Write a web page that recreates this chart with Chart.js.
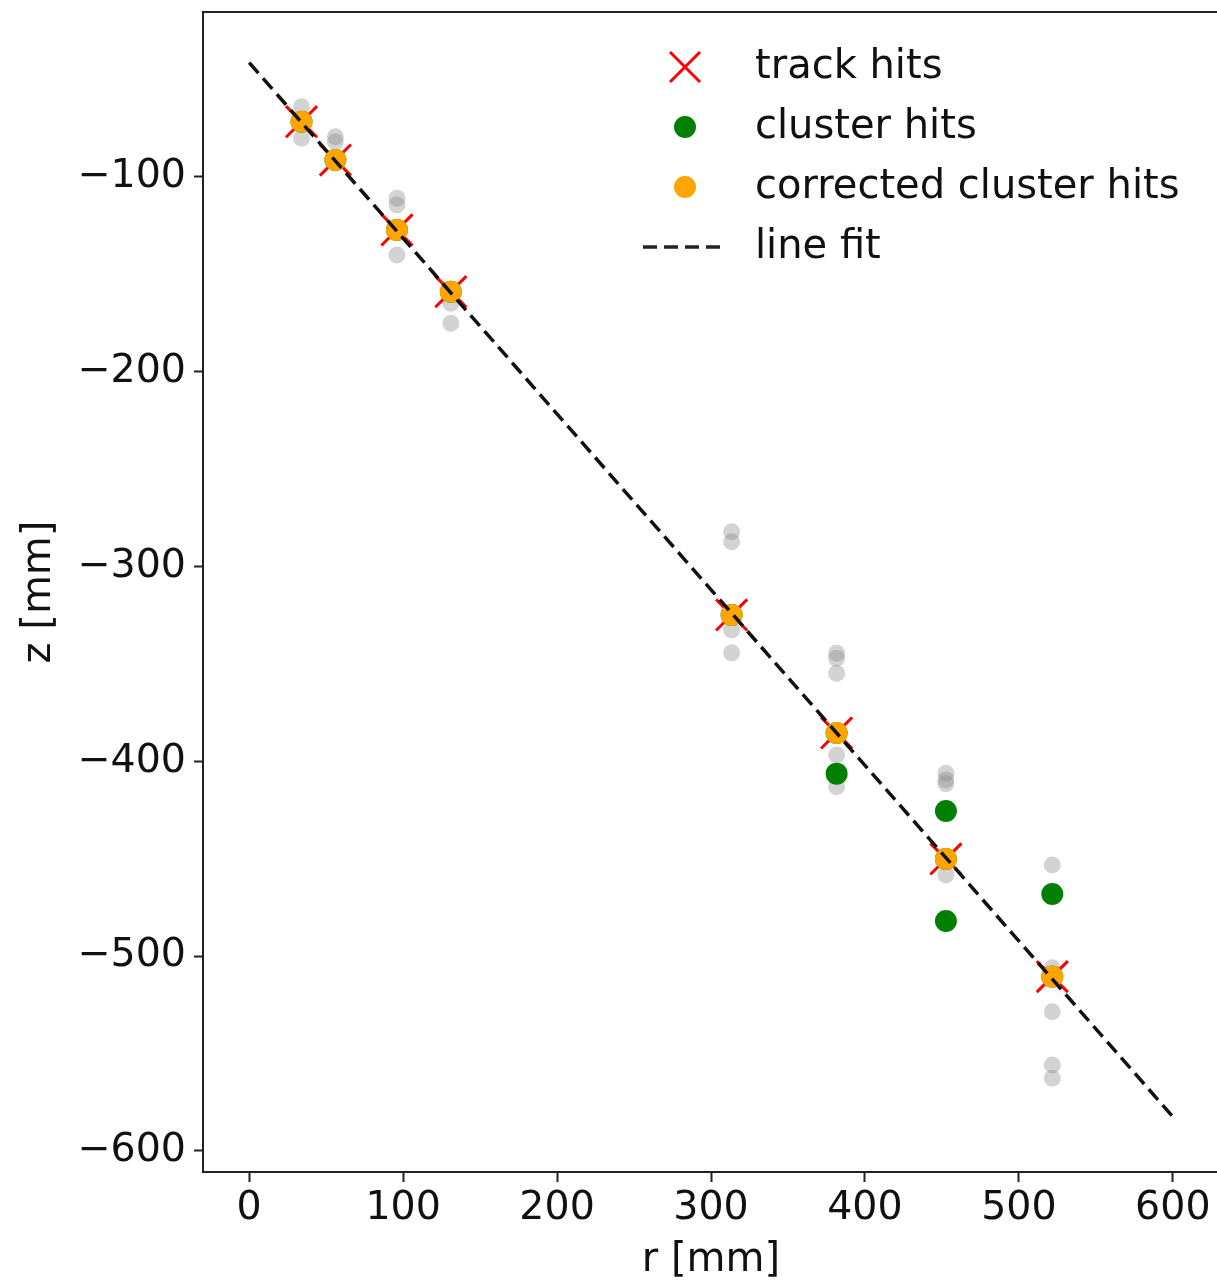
<!DOCTYPE html>
<html>
<head>
<meta charset="utf-8">
<script src="https://cdn.jsdelivr.net/npm/chart.js@4.4.1/dist/chart.umd.min.js"></script>
<style>
  html, body { margin: 0; padding: 0; background: #fff; overflow: hidden; }
  canvas { display: block; }
</style>
</head>
<body>
<canvas id="hits" width="1222" height="1281"></canvas>
<script>
// track hits (r, z) in mm
const trackR = [34, 56, 96, 131, 313.4, 381.6, 452.6, 521.7];
const trackZ = [-71.6, -91.3, -127.2, -158.9, -324.8, -385.4, -450.1, -510.5];
// raw cluster hits
const clusterR = [34, 56, 96, 131, 313.4, 381.6, 381.6, 452.6, 452.6, 452.6, 521.7, 521.7];
const clusterZ = [-71.6, -91.3, -127.2, -158.9, -324.8, -385.4, -406.3, -425.5, -450.1, -481.9, -468.1, -510.5];
// cluster hits after correction
const correctedR = [34, 56, 96, 131, 313.4, 381.6, 452.6, 521.7];
const correctedZ = [-71.6, -91.3, -127.2, -158.9, -324.8, -385.4, -450.1, -510.5];
// all other detector hits (grey background)
const otherR = [34, 34, 34, 56, 56, 56, 96, 96, 96, 96, 131, 131, 131,
  313.4, 313.4, 313.4, 313.4, 313.4,
  381.6, 381.6, 381.6, 381.6, 381.6, 381.6,
  452.6, 452.6, 452.6, 452.6,
  521.7, 521.7, 521.7, 521.7, 521.7];
const otherZ = [-63.9, -71.6, -80.1, -79.3, -81.9, -91.3, -110.9, -114.4, -127.2, -140.0, -158.9, -164.8, -175.1,
  -282.1, -287.2, -324.8, -332.5, -344.3,
  -344.5, -347.1, -354.8, -396.7, -406.3, -413.0,
  -406.1, -409.5, -411.5, -458.3,
  -453.2, -506.0, -528.5, -555.9, -562.7];
// straight line fit end points
const fitR = [0, 600];
const fitZ = [-41.3, -582.4];
// tick values
const rTicks = [0, 100, 200, 300, 400, 500, 600];
const zTicks = [-600, -500, -400, -300, -200, -100];

const toPoints = (xs, ys) => xs.map((x, i) => ({ x: x, y: ys[i] }));

const FONT = "'DejaVu Sans', sans-serif";
const legendItems = [
  { label: "track hits", kind: "cross", color: "red" },
  { label: "cluster hits", kind: "dot", color: "green" },
  { label: "corrected cluster hits", kind: "dot", color: "orange" },
  { label: "line fit", kind: "dash", color: "#222" },
];

// frame around the plot area (matplotlib style spines)
const framePlugin = {
  id: "frame",
  afterDatasetsDraw(chart) {
    const { ctx, chartArea: a } = chart;
    ctx.save();
    ctx.strokeStyle = "#222";
    ctx.lineWidth = 2;
    ctx.strokeRect(a.left, a.top, a.right - a.left, a.bottom - a.top);
    ctx.restore();
  },
};

// legend in the upper right corner, no box
const legendPlugin = {
  id: "mplLegend",
  afterDraw(chart) {
    const { ctx, chartArea: a } = chart;
    const markX = a.right - 534;
    const textX = a.right - 464;
    let y = a.top + 55;
    ctx.save();
    ctx.font = "40px " + FONT;
    ctx.textBaseline = "middle";
    ctx.textAlign = "left";
    legendItems.forEach((it) => {
      if (it.kind === "cross") {
        ctx.strokeStyle = it.color;
        ctx.lineWidth = 3;
        ctx.beginPath();
        ctx.moveTo(markX - 15, y - 15); ctx.lineTo(markX + 15, y + 15);
        ctx.moveTo(markX + 15, y - 15); ctx.lineTo(markX - 15, y + 15);
        ctx.stroke();
      } else if (it.kind === "dot") {
        ctx.fillStyle = it.color;
        ctx.beginPath();
        ctx.arc(markX, y, 11, 0, Math.PI * 2);
        ctx.fill();
      } else {
        ctx.strokeStyle = it.color;
        ctx.lineWidth = 3.5;
        ctx.setLineDash([14, 7]);
        ctx.beginPath();
        ctx.moveTo(markX - 42, y); ctx.lineTo(markX + 38, y);
        ctx.stroke();
        ctx.setLineDash([]);
      }
      ctx.fillStyle = "#111";
      ctx.fillText(it.label, textX, y + 1);
      y += 60;
    });
    ctx.restore();
  },
};

new Chart(document.getElementById("hits"), {
  type: "scatter",
  plugins: [framePlugin, legendPlugin],
  data: {
    datasets: [
      {
        label: "line fit",
        type: "line",
        data: toPoints(fitR, fitZ),
        borderColor: "#111",
        borderWidth: 3.5,
        borderDash: [14, 7],
        pointRadius: 0,
        fill: false,
        order: 1,
      },
      {
        label: "corrected cluster hits",
        data: toPoints(correctedR, correctedZ),
        backgroundColor: "orange",
        borderWidth: 0,
        pointRadius: 11,
        order: 2,
      },
      {
        label: "cluster hits",
        data: toPoints(clusterR, clusterZ),
        backgroundColor: "green",
        borderWidth: 0,
        pointRadius: 11,
        order: 3,
      },
      {
        label: "track hits",
        data: toPoints(trackR, trackZ),
        pointStyle: "crossRot",
        borderColor: "red",
        borderWidth: 3,
        pointRadius: 22,
        order: 4,
      },
      {
        label: "all hits",
        data: toPoints(otherR, otherZ),
        backgroundColor: "rgba(128,128,128,0.35)",
        borderWidth: 0,
        pointRadius: 8.5,
        order: 5,
      },
    ],
  },
  options: {
    responsive: false,
    animation: false,
    layout: { autoPadding: false, padding: { top: 12, right: 3, left: 0, bottom: 0 } },
    plugins: {
      legend: { display: false },
      tooltip: { enabled: false },
    },
    scales: {
      x: {
        type: "linear",
        min: -30,
        max: 630,
        afterBuildTicks(scale) { scale.ticks = rTicks.map((v) => ({ value: v })); },
        afterFit(scale) { scale.height = 109; scale.paddingLeft = 0; scale.paddingRight = 0; },
        border: { display: false },
        grid: { drawOnChartArea: false, drawTicks: true, tickLength: 10, tickWidth: 2, tickColor: "#222" },
        ticks: {
          padding: 3,
          color: "#111",
          font: { family: FONT, size: 39.5 },
          maxRotation: 0,
          autoSkip: false,
        },
        title: {
          display: true,
          text: "r [mm]",
          color: "#111",
          font: { family: FONT, size: 40 },
          padding: { top: 0, bottom: -4 },
        },
      },
      y: {
        type: "linear",
        min: -610.8,
        max: -15.3,
        afterBuildTicks(scale) { scale.ticks = zTicks.map((v) => ({ value: v })); },
        afterFit(scale) { scale.width = 203; scale.paddingTop = 0; scale.paddingBottom = 0; },
        border: { display: false },
        grid: { drawOnChartArea: false, drawTicks: true, tickLength: 9, tickWidth: 2, tickColor: "#222" },
        ticks: {
          padding: 8,
          color: "#111",
          font: { family: FONT, size: 39.5 },
          autoSkip: false,
          callback: (v) => String(v).replace("-", "\u2212"),
        },
        title: {
          display: true,
          text: "z [mm]",
          color: "#111",
          font: { family: FONT, size: 40 },
          padding: { top: 16, bottom: 0 },
        },
      },
    },
  },
});
</script>
</body>
</html>
